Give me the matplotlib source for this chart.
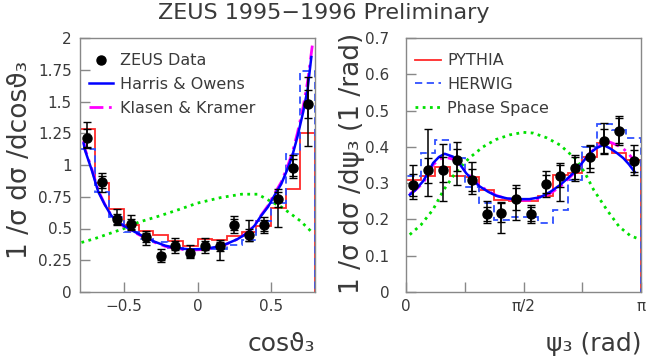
import numpy as np
import matplotlib
matplotlib.use("Agg")
import matplotlib.pyplot as plt
from matplotlib.lines import Line2D

plt.rcParams['font.family'] = ['DejaVu Sans']

# ---------------- data: cos(theta3) panel ----------------
cos_edges = [-0.8, -0.7, -0.6, -0.5, -0.4, -0.3, -0.2, -0.1, 0.0, 0.1, 0.2, 0.3, 0.4, 0.5, 0.6, 0.7, 0.8]
cos_x = [-0.75, -0.65, -0.55, -0.45, -0.35, -0.25, -0.15, -0.05, 0.05, 0.15, 0.25, 0.35, 0.45, 0.55, 0.65, 0.75]
cos_y = [1.21, 0.865, 0.577, 0.535, 0.43, 0.28, 0.364, 0.307, 0.364, 0.36, 0.53, 0.45, 0.524, 0.73, 0.98, 1.48]
cos_stat = [0.07, 0.05, 0.04, 0.04, 0.035, 0.03, 0.035, 0.035, 0.035, 0.035, 0.045, 0.045, 0.045, 0.06, 0.07, 0.11]
cos_tot_up = [0.13, 0.07, 0.08, 0.07, 0.05, 0.055, 0.06, 0.065, 0.06, 0.05, 0.065, 0.12, 0.065, 0.08, 0.10, 0.21]
cos_tot_dn = [0.08, 0.08, 0.05, 0.045, 0.06, 0.04, 0.055, 0.04, 0.06, 0.11, 0.065, 0.05, 0.06, 0.22, 0.08, 0.33]
pythia_cos = [1.28, 0.86, 0.655, 0.53, 0.48, 0.445, 0.40, 0.365, 0.415, 0.41, 0.44, 0.47, 0.516, 0.665, 0.81, 1.25]
herwig_cos = [1.125, 0.79, 0.59, 0.47, 0.42, 0.39, 0.35, 0.33, 0.34, 0.34, 0.37, 0.41, 0.56, 0.70, 1.09, 1.74]
ho_cos_x = [-0.775, -0.767, -0.72, -0.676, -0.631, -0.586, -0.55, -0.5, -0.43, -0.36, -0.29, -0.22, -0.15, -0.05,
            0.05, 0.13, 0.2, 0.27, 0.34, 0.39, 0.43, 0.48, 0.52, 0.57, 0.61, 0.644, 0.68, 0.72, 0.75, 0.775]
ho_cos_y = [1.17, 1.12, 0.96, 0.79, 0.687, 0.60, 0.56, 0.52, 0.475, 0.433, 0.395, 0.365, 0.347, 0.335,
            0.34, 0.355, 0.38, 0.415, 0.464, 0.525, 0.595, 0.67, 0.752, 0.85, 0.96, 1.067, 1.22, 1.42, 1.60, 1.85]
kk_cos_x = [-0.775, -0.767, -0.72, -0.676, -0.631, -0.586, -0.55, -0.5, -0.43, -0.36, -0.29, -0.22, -0.15, -0.05,
            0.05, 0.13, 0.2, 0.27, 0.34, 0.39, 0.43, 0.48, 0.52, 0.57, 0.61, 0.644, 0.68, 0.72, 0.75, 0.785]
kk_cos_y = [1.19, 1.13, 0.97, 0.80, 0.69, 0.60, 0.56, 0.515, 0.47, 0.428, 0.39, 0.36, 0.342, 0.33,
            0.335, 0.35, 0.378, 0.415, 0.466, 0.53, 0.60, 0.68, 0.765, 0.865, 0.98, 1.09, 1.25, 1.46, 1.66, 1.97]
ps_cos_x = [-0.79, -0.7, -0.6, -0.5, -0.4, -0.27, -0.15, 0.0, 0.16, 0.3, 0.41, 0.5, 0.57, 0.63, 0.7, 0.78]
ps_cos_y = [0.39, 0.42, 0.46, 0.50, 0.55, 0.595, 0.64, 0.70, 0.744, 0.77, 0.77, 0.713, 0.67, 0.62, 0.56, 0.47]

# ---------------- data: psi3 panel ----------------
psi_edges = np.linspace(0, np.pi, 17)
psi_x = 0.5 * (psi_edges[:-1] + psi_edges[1:])
psi_y = [0.295, 0.335, 0.337, 0.364, 0.309, 0.2155, 0.219, 0.256, 0.215, 0.298, 0.32, 0.341, 0.373, 0.415, 0.445, 0.36]
psi_stat = [0.03, 0.035, 0.035, 0.03, 0.03, 0.02, 0.025, 0.03, 0.02, 0.025, 0.03, 0.03, 0.03, 0.035, 0.035, 0.03]
psi_tot_up = [0.055, 0.115, 0.07, 0.05, 0.05, 0.035, 0.03, 0.04, 0.025, 0.035, 0.035, 0.037, 0.032, 0.05, 0.04, 0.045]
psi_tot_dn = [0.04, 0.07, 0.085, 0.07, 0.04, 0.025, 0.057, 0.057, 0.025, 0.035, 0.07, 0.036, 0.041, 0.032, 0.04, 0.037]
pythia_psi = [0.309, 0.32, 0.344, 0.32, 0.317, 0.281, 0.254, 0.25, 0.252, 0.265, 0.323, 0.329, 0.373, 0.41, 0.383, 0.364]
herwig_psi = [0.32, 0.383, 0.419, 0.37, 0.29, 0.245, 0.199, 0.206, 0.206, 0.19, 0.226, 0.31, 0.40, 0.463, 0.447, 0.424]
ho_psi_x = [0.05, 0.12, 0.227, 0.30, 0.361, 0.44, 0.517, 0.628, 0.72, 0.806, 0.9, 0.985, 1.1, 1.207, 1.35, 1.474,
            1.65, 1.792, 1.93, 2.06, 2.17, 2.283, 2.37, 2.46, 2.55, 2.638, 2.727, 2.82, 2.905, 2.98, 3.06]
ho_psi_y = [0.268, 0.28, 0.305, 0.33, 0.355, 0.372, 0.381, 0.373, 0.352, 0.327, 0.307, 0.291, 0.276, 0.265, 0.258,
            0.256, 0.256, 0.261, 0.276, 0.295, 0.315, 0.337, 0.36, 0.383, 0.397, 0.405, 0.396, 0.383, 0.369, 0.352, 0.33]
kk_psi_y = [0.27, 0.28, 0.30, 0.325, 0.35, 0.365, 0.372, 0.366, 0.35, 0.33, 0.31, 0.293, 0.278, 0.266, 0.257,
            0.253, 0.253, 0.258, 0.272, 0.29, 0.312, 0.335, 0.36, 0.383, 0.40, 0.41, 0.413, 0.405, 0.395, 0.38, 0.36]
ps_psi_x = [0.05, 0.2, 0.361, 0.5, 0.673, 0.85, 1.03, 1.2, 1.386, 1.57, 1.7, 1.88, 2.06, 2.283, 2.4, 2.51, 2.69, 2.85, 3.0, 3.09]
ps_psi_y = [0.158, 0.185, 0.227, 0.28, 0.332, 0.37, 0.40, 0.42, 0.433, 0.44, 0.438, 0.425, 0.405, 0.364, 0.325, 0.281, 0.225, 0.18, 0.155, 0.148]

TXT = '#3a3a3a'
FRAME = '#888888'
RED = '#ff2a2a'
BLUE = '#0000ff'
HBLUE = '#3050ff'
MAG = '#ff00ff'
GREEN = '#00e000'

fig = plt.figure(figsize=(6.48, 3.6), dpi=100)
axL = fig.add_axes([80 / 648, 68 / 360, 235 / 648, 254 / 360])
axR = fig.add_axes([406 / 648, 68 / 360, 235 / 648, 254 / 360])


def style(ax):
    for s in ax.spines.values():
        s.set_color(FRAME)
        s.set_linewidth(1.0)
    ax.tick_params(direction='in', length=7, width=1, color=FRAME, labelcolor=TXT,
                   labelsize=11, top=False, right=False)


def data_points(ax, x, y, stat, up, dn):
    ax.errorbar(x, y, yerr=[dn, up], fmt='none', ecolor='black', elinewidth=1.1,
                capsize=3, capthick=1.0, zorder=5)
    ax.errorbar(x, y, yerr=stat, fmt='o', color='black', ms=6.5, ecolor='black',
                elinewidth=1.1, capsize=3, capthick=1.0, zorder=6)


# ---- left panel ----
style(axL)
axL.stairs(pythia_cos, cos_edges, baseline=0, color=RED, lw=1.3, zorder=2)
axL.stairs(herwig_cos, cos_edges, baseline=0, color=HBLUE, lw=1.3, ls=(0, (4, 2.5)), zorder=2)
axL.plot(ps_cos_x, ps_cos_y, color=GREEN, lw=2, ls=(0, (1, 1.6)), zorder=3)
axL.plot(kk_cos_x, kk_cos_y, color=MAG, lw=2, ls=(0, (5, 2, 1, 2)), zorder=3)
axL.plot(ho_cos_x, ho_cos_y, color=BLUE, lw=1.8, zorder=4)
data_points(axL, cos_x, cos_y, cos_stat, cos_tot_up, cos_tot_dn)
axL.set_xlim(-0.8, 0.8)
axL.set_ylim(0, 2)
axL.set_xticks([-0.5, 0, 0.5])
axL.set_xticklabels(['\u22120.5', '0', '0.5'])
axL.set_yticks([0, 0.25, 0.5, 0.75, 1, 1.25, 1.5, 1.75, 2])
axL.set_yticklabels(['0', '0.25', '0.5', '0.75', '1', '1.25', '1.5', '1.75', '2'])
axL.tick_params(axis='y', pad=6)
axL.tick_params(axis='x', pad=5)

hL = [Line2D([], [], ls='none', marker='o', color='black', ms=6.5),
      Line2D([], [], color=BLUE, lw=1.8),
      Line2D([], [], color=MAG, lw=2, ls=(0, (5, 2, 1, 2)))]
axL.legend(hL, ['ZEUS Data', 'Harris & Owens', 'Klasen & Kramer'], loc='upper left',
           bbox_to_anchor=(0.04, 0.94), frameon=False, fontsize=11.5, handlelength=1.5,
           handletextpad=0.4, labelspacing=0.55, borderpad=0, borderaxespad=0, labelcolor=TXT)

axL.text(1.0, -0.205, 'cos\u03d1\u2083', transform=axL.transAxes, ha='right', va='center',
         fontsize=18, color=TXT)
fig.text(20 / 648, 1 - 160 / 360, '1 /\u03c3 d\u03c3 /dcos\u03d1\u2083', rotation=90, ha='center',
         va='center', fontsize=19, color=TXT)

# ---- right panel ----
style(axR)
axR.stairs(pythia_psi, psi_edges, baseline=0, color=RED, lw=1.3, zorder=2)
axR.stairs(herwig_psi, psi_edges, baseline=0, color=HBLUE, lw=1.3, ls=(0, (4, 2.5)), zorder=2)
axR.plot(ps_psi_x, ps_psi_y, color=GREEN, lw=2, ls=(0, (1, 1.6)), zorder=3)
axR.plot(ho_psi_x, kk_psi_y, color=MAG, lw=2, ls=(0, (5, 2, 1, 2)), zorder=3)
axR.plot(ho_psi_x, ho_psi_y, color=BLUE, lw=1.8, zorder=4)
data_points(axR, psi_x, psi_y, psi_stat, psi_tot_up, psi_tot_dn)
axR.set_xlim(0, np.pi)
axR.set_ylim(0, 0.7)
axR.set_xticks([0, np.pi / 4, np.pi / 2, 3 * np.pi / 4, np.pi])
axR.set_xticklabels(['0', '', '\u03c0/2', '', '\u03c0'])
axR.set_yticks([0, 0.1, 0.2, 0.3, 0.4, 0.5, 0.6, 0.7])
axR.set_yticklabels(['0', '0.1', '0.2', '0.3', '0.4', '0.5', '0.6', '0.7'])
axR.tick_params(axis='y', pad=12)
axR.tick_params(axis='x', pad=5)

hR = [Line2D([], [], color=RED, lw=1.3),
      Line2D([], [], color=HBLUE, lw=1.3, ls=(0, (4, 2.5))),
      Line2D([], [], color=GREEN, lw=2, ls=(0, (1, 1.6)))]
axR.legend(hR, ['PYTHIA', 'HERWIG', 'Phase Space'], loc='upper left',
           bbox_to_anchor=(0.04, 0.94), frameon=False, fontsize=11.5, handlelength=1.6,
           handletextpad=0.4, labelspacing=0.55, borderpad=0, borderaxespad=0, labelcolor=TXT)

axR.text(1.0, -0.205, '\u03c8\u2083 (rad)', transform=axR.transAxes, ha='right', va='center',
         fontsize=18, color=TXT)
fig.text(352 / 648, 1 - 163 / 360, '1 /\u03c3 d\u03c3 /d\u03c8\u2083 (1 /rad)', rotation=90,
         ha='center', va='center', fontsize=19, color=TXT)

fig.text(0.5, 1 - 13 / 360, 'ZEUS 1995\u22121996 Preliminary', ha='center', va='center',
         fontsize=16, color=TXT)

fig.savefig('out.png', dpi=100)
